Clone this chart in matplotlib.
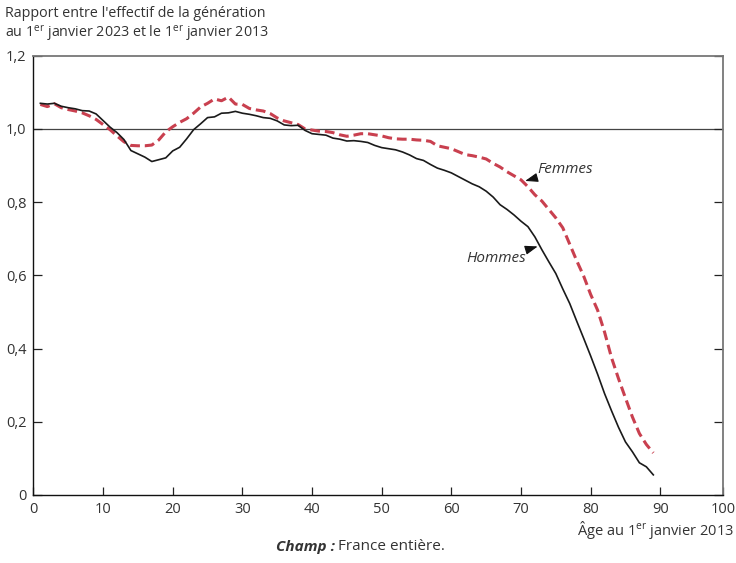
import numpy as np
import matplotlib.pyplot as plt

plt.rcParams['font.family'] = ['Open Sans', 'DejaVu Sans']
plt.rcParams['mathtext.fontset'] = 'custom'
plt.rcParams['mathtext.rm'] = 'Open Sans'
plt.rcParams['mathtext.it'] = 'Open Sans:italic'

# Données
ages = np.arange(1, 90)
hommes = [1.070, 1.068, 1.070, 1.062, 1.058, 1.055, 1.050, 1.049, 1.041, 1.023,
          1.005, 0.990, 0.971, 0.941, 0.932, 0.923, 0.911, 0.916, 0.921, 0.940,
          0.950, 0.973, 0.998, 1.014, 1.031, 1.033, 1.043, 1.044, 1.048, 1.043,
          1.040, 1.036, 1.031, 1.029, 1.022, 1.011, 1.009, 1.010, 0.996, 0.987,
          0.985, 0.983, 0.975, 0.972, 0.967, 0.968, 0.966, 0.963, 0.955, 0.949,
          0.946, 0.943, 0.937, 0.929, 0.919, 0.914, 0.903, 0.893, 0.887, 0.880,
          0.870, 0.860, 0.850, 0.842, 0.830, 0.814, 0.793, 0.780, 0.765, 0.748,
          0.733, 0.705, 0.670, 0.637, 0.605, 0.563, 0.523, 0.475, 0.428, 0.380,
          0.330, 0.277, 0.230, 0.185, 0.145, 0.118, 0.088, 0.077, 0.055]
femmes = [1.067, 1.061, 1.069, 1.058, 1.053, 1.049, 1.044, 1.036, 1.026, 1.012,
          0.998, 0.981, 0.965, 0.955, 0.954, 0.954, 0.956, 0.970, 0.992, 1.006,
          1.018, 1.028, 1.043, 1.060, 1.070, 1.082, 1.077, 1.087, 1.068, 1.067,
          1.056, 1.052, 1.049, 1.042, 1.030, 1.022, 1.017, 1.012, 1.000, 0.997,
          0.994, 0.993, 0.990, 0.984, 0.980, 0.983, 0.987, 0.987, 0.984, 0.981,
          0.976, 0.973, 0.972, 0.972, 0.970, 0.969, 0.966, 0.954, 0.950, 0.946,
          0.938, 0.930, 0.927, 0.923, 0.918, 0.906, 0.896, 0.883, 0.872, 0.861,
          0.842, 0.820, 0.803, 0.780, 0.757, 0.730, 0.685, 0.640, 0.598, 0.548,
          0.505, 0.445, 0.375, 0.318, 0.265, 0.213, 0.168, 0.138, 0.115]

xticks = [0, 10, 20, 30, 40, 50, 60, 70, 80, 90, 99]
xticklabels = ['0', '10', '20', '30', '40', '50', '60', '70', '80', '90', '100']
yticks = [0, 0.2, 0.4, 0.6, 0.8, 1.0, 1.2]
yticklabels = ['0', '0,2', '0,4', '0,6', '0,8', '1,0', '1,2']

txt = '#333333'
rouge = '#c9404f'

fig = plt.figure(figsize=(7.36, 5.63), dpi=100)
ax = fig.add_axes([0.0454, 0.1208, 0.9369, 0.7802])

ax.axhline(1.0, color='#444444', lw=0.9, zorder=1)
ax.plot(ages, hommes, color='#1a1a1a', lw=1.2, zorder=3)
ax.plot(ages, femmes, color=rouge, lw=2.2, dashes=(3.2, 1.6), zorder=2)

ax.set_xlim(0, 99)
ax.set_ylim(0, 1.2)
ax.set_xticks(xticks)
ax.set_xticklabels(xticklabels)
ax.set_yticks(yticks)
ax.set_yticklabels(yticklabels)
ax.tick_params(axis='x', direction='in', length=5.5, width=0.9, color='#222222',
               labelsize=10.5, labelcolor=txt, pad=5)
ax.tick_params(axis='y', direction='in', length=6.5, width=0.9, color='#222222',
               labelsize=10.5, labelcolor=txt, pad=5, right=True)

for side in ['left', 'bottom']:
    ax.spines[side].set_color('#111111')
    ax.spines[side].set_linewidth(1.0)
for side in ['top', 'right']:
    ax.spines[side].set_color('#777777')
    ax.spines[side].set_linewidth(1.3)

arrow = dict(arrowstyle='-|>,head_length=0.7,head_width=0.25', color='#111111',
             shrinkA=0, shrinkB=0, lw=0.8)
ax.annotate('Femmes', xy=(70.6, 0.858), xytext=(72.4, 0.889), fontsize=11,
            style='italic', color=txt, ha='left', va='center', arrowprops=arrow)
ax.annotate('Hommes', xy=(72.4, 0.679), xytext=(70.8, 0.645), fontsize=11,
            style='italic', color=txt, ha='right', va='center', arrowprops=arrow)

fig.text(0.007, 0.976, "Rapport entre l'effectif de la génération", fontsize=10.3,
         color=txt, ha='left', va='center')
fig.text(0.007, 0.940, "au 1$^{\\rm er}$ janvier 2023 et le 1$^{\\rm er}$ janvier 2013",
         fontsize=10.3, color=txt, ha='left', va='center')
fig.text(0.997, 0.059, "Âge au 1$^{\\rm er}$ janvier 2013", fontsize=10.5,
         color=txt, ha='right', va='center')
fig.text(0.455, 0.029, "Champ :", fontsize=11, color=txt, ha='right',
         va='center', style='italic', weight='bold')
fig.text(0.459, 0.029, "France entière.", fontsize=11, color=txt, ha='left',
         va='center')

fig.savefig('out.png', dpi=100)
